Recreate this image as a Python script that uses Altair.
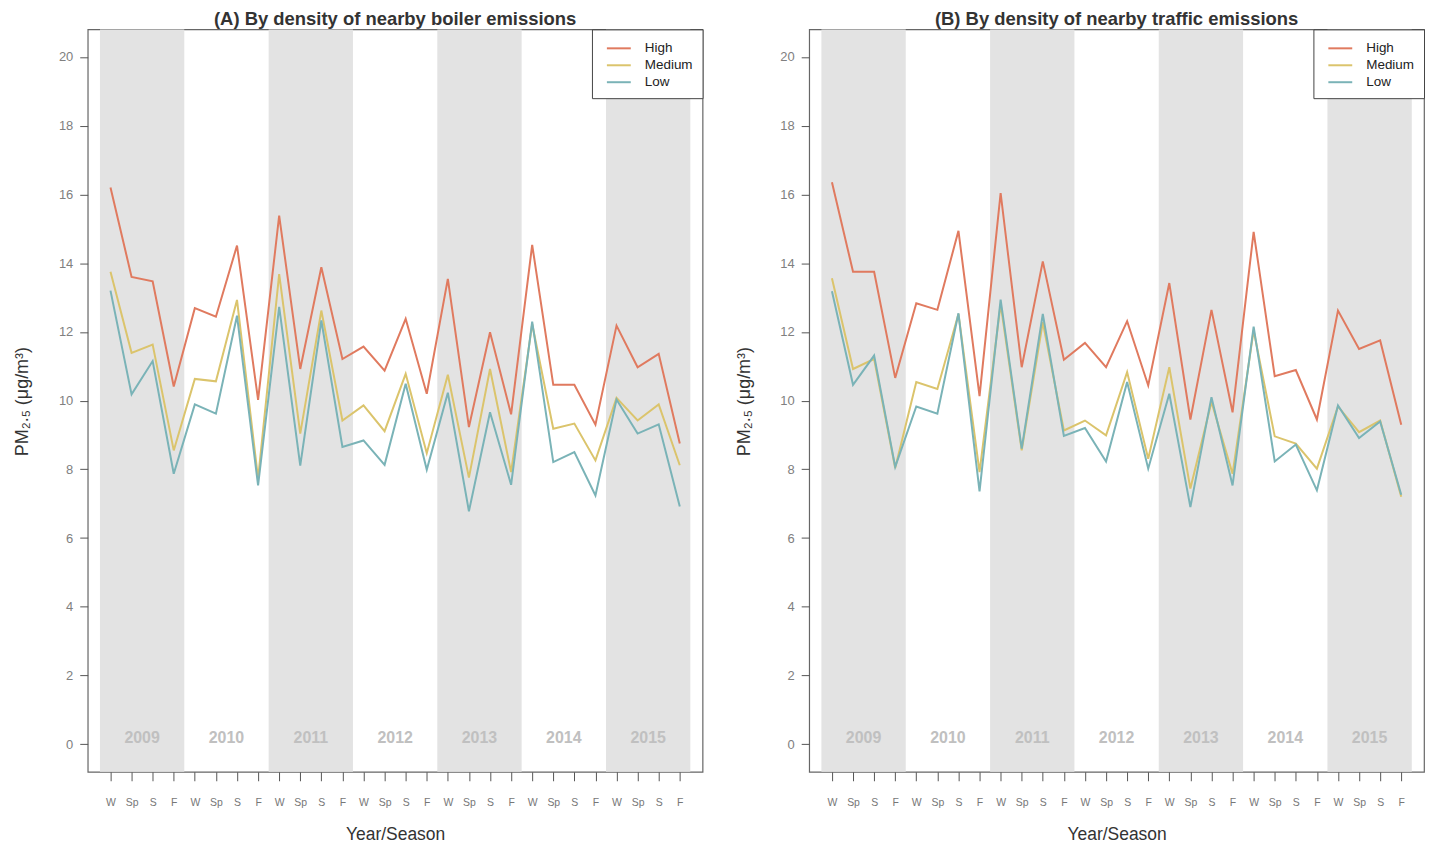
import json
import altair as alt
import pandas as pd

seasons = ["W", "Sp", "S", "F"]
years = [2009, 2010, 2011, 2012, 2013, 2014, 2015]
groups = ["High", "Medium", "Low"]
colors = ["#E07A5F", "#DBC46C", "#7AB3B7"]

boiler_high = [16.2, 13.6, 13.47, 10.41, 12.69, 12.44, 14.51, 10.02, 15.38, 10.92, 13.88, 11.21, 11.57, 10.87,
               12.38, 10.2, 13.54, 9.23, 11.99, 9.6, 14.53, 10.46, 10.46, 9.3, 12.18, 10.97, 11.36, 8.75]
boiler_medium = [13.75, 11.39, 11.63, 8.55, 10.63, 10.56, 12.93, 7.73, 13.68, 9.04, 12.62, 9.42, 9.86, 9.11,
                 10.78, 8.47, 10.75, 7.76, 10.92, 7.92, 12.23, 9.18, 9.33, 8.26, 10.08, 9.42, 9.89, 8.12]
boiler_low = [13.2, 10.18, 11.15, 7.87, 9.89, 9.62, 12.47, 7.53, 12.73, 8.11, 12.33, 8.65, 8.84, 8.13,
              10.49, 7.99, 10.23, 6.78, 9.66, 7.55, 12.3, 8.21, 8.5, 7.24, 10.03, 9.04, 9.31, 6.92]
traffic_high = [16.35, 13.75, 13.75, 10.66, 12.83, 12.64, 14.94, 10.13, 16.04, 10.97, 14.05, 11.19, 11.68, 10.97,
                12.31, 10.44, 13.42, 9.45, 12.64, 9.66, 14.91, 10.71, 10.89, 9.45, 12.62, 11.5, 11.75, 9.3]
traffic_medium = [13.56, 10.92, 11.21, 8.04, 10.54, 10.34, 12.52, 7.92, 12.81, 8.55, 12.28, 9.13, 9.42, 8.99,
                  10.83, 8.31, 10.97, 7.44, 9.96, 7.87, 12.04, 8.96, 8.75, 8.02, 9.83, 9.08, 9.42, 7.2]
traffic_low = [13.18, 10.46, 11.31, 8.07, 9.83, 9.62, 12.54, 7.36, 12.94, 8.6, 12.52, 8.97, 9.2, 8.23,
               10.54, 8.02, 10.2, 6.9, 10.1, 7.53, 12.15, 8.23, 8.72, 7.39, 9.86, 8.91, 9.39, 7.26]

y_ticks = list(range(0, 21, 2))
y_lo, y_hi = -0.8, 20.8
FONT = "Liberation Sans"

n = len(seasons) * len(years)
shaded = list(range(0, len(years), 2))
band_df = pd.DataFrame({
    "start": [4 * k - 0.5 for k in shaded],
    "end": [4 * k + 3.5 for k in shaded],
    "ylo": [y_lo] * len(shaded),
    "yhi": [y_hi] * len(shaded),
})
year_df = pd.DataFrame({
    "xc": [4 * k + 1.5 for k in range(len(years))],
    "yv": [0.17] * len(years),
    "year": [str(y) for y in years],
})

xscale = alt.Scale(domain=[-1.08, n - 1 + 1.08], nice=False, zero=False)
yscale = alt.Scale(domain=[y_lo, y_hi], nice=False, zero=False)

xaxis = alt.Axis(values=list(range(n)),
                 labelExpr=f"{json.dumps(seasons)}[datum.value % 4]",
                 title="Year/Season", grid=False, domain=False,
                 tickSize=9, tickColor="#555", tickWidth=1,
                 labelFontSize=10.5, labelColor="#777", labelFont=FONT, labelPadding=17,
                 labelFlush=False, labelOverlap=False,
                 titleFont=FONT, titleFontSize=17.5, titleColor="#333", titleFontWeight="normal",
                 titleBaseline="alphabetic", titleY=68)
yaxis = alt.Axis(values=y_ticks, title="PM₂.₅ (μg/m³)", grid=False, domain=False,
                 tickSize=8, tickColor="#555", tickWidth=1,
                 labelFontSize=13, labelColor="#808080", labelFont=FONT, labelPadding=7,
                 titleFont=FONT, titleFontSize=18, titleColor="#333", titleFontWeight="normal",
                 titleBaseline="alphabetic", titleAngle=270, titleX=-60, titleY=373)

legend = alt.Legend(title=None, orient="top-right", offset=0, padding=9.5,
                    strokeColor="#444", fillColor="white",
                    symbolType="M-0.47,0L2.35,0", symbolSize=289, symbolStrokeWidth=2,
                    labelFontSize=13.5, labelFont=FONT, labelColor="#222", labelOffset=24.5,
                    rowPadding=1)


def panel(title, high, med, low):
    df = pd.DataFrame({
        "idx": list(range(n)) * 3,
        "group": ["High"] * n + ["Medium"] * n + ["Low"] * n,
        "value": high + med + low,
    })
    bands = alt.Chart(band_df).mark_rect(color="#E3E3E3").encode(
        x=alt.X("start:Q", scale=xscale, axis=xaxis), x2="end",
        y=alt.Y("ylo:Q", scale=yscale, axis=yaxis), y2="yhi")
    yrs = alt.Chart(year_df).mark_text(font=FONT, fontSize=16, fontWeight="bold", color="#C0C0C0",
                                       baseline="middle").encode(
        x=alt.X("xc:Q", scale=xscale, axis=xaxis),
        y=alt.Y("yv:Q", scale=yscale, axis=yaxis),
        text="year:N")
    lines = alt.Chart(df).mark_line(strokeWidth=2).encode(
        x=alt.X("idx:Q", scale=xscale, axis=xaxis),
        y=alt.Y("value:Q", scale=yscale, axis=yaxis),
        color=alt.Color("group:N", sort=groups, scale=alt.Scale(domain=groups, range=colors), legend=legend),
        detail="group:N")
    return alt.layer(bands, yrs, lines).properties(
        width=617, height=745,
        title=alt.TitleParams(title, font=FONT, fontSize=18.5, fontWeight="bold", color="#333",
                              anchor="middle", frame="group", offset=0))


left = panel("(A) By density of nearby boiler emissions", boiler_high, boiler_medium, boiler_low)
right = panel("(B) By density of nearby traffic emissions", traffic_high, traffic_medium, traffic_low)

chart = alt.hconcat(left, right, spacing=30).resolve_scale(color="independent").resolve_legend(
    color="independent").properties(
    padding={"left": 5, "top": 0, "right": 0, "bottom": 0}).configure_view(stroke="#666", strokeWidth=1.2)

chart.save("out.html", embed_options={"renderer": "svg", "actions": False})
